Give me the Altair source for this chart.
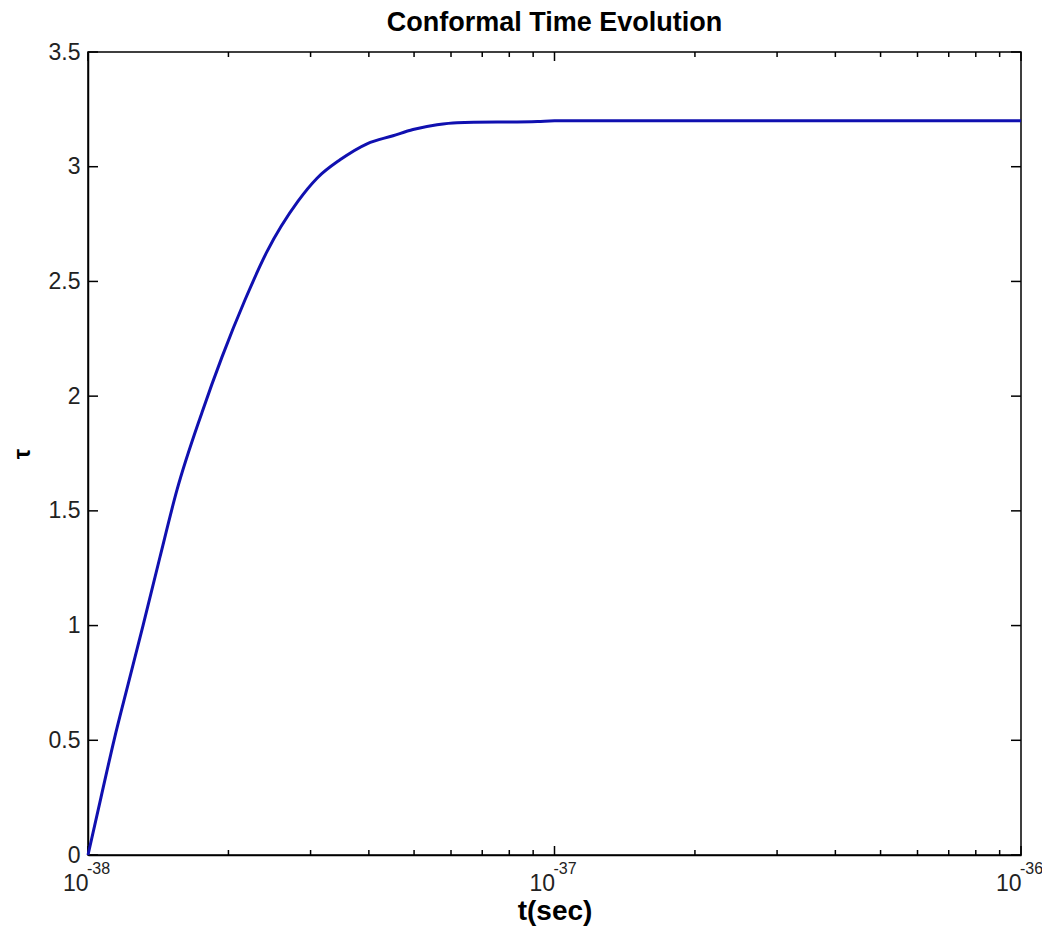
import altair as alt
import pandas as pd

# ---- data ----
t_sec = [1.000e-38, 1.066e-38, 1.137e-38, 1.221e-38, 1.312e-38, 1.427e-38,
         1.551e-38, 1.756e-38, 1.937e-38, 2.171e-38, 2.419e-38, 2.820e-38,
         3.097e-38, 3.469e-38, 3.964e-38, 4.507e-38, 4.974e-38, 5.600e-38,
         6.180e-38, 9.200e-38, 1.000e-37, 1.000e-36]
tau = [0.0, 0.25, 0.5, 0.75, 1.0, 1.3,
       1.59, 1.93, 2.17, 2.42, 2.63, 2.85,
       2.95, 3.03, 3.10, 3.135, 3.162, 3.183,
       3.192, 3.197, 3.2, 3.2]

x_major = [1e-38, 1e-37, 1e-36]
x_exponents = ["-38", "-37", "-36"]
x_minor = [2e-38, 3e-38, 4e-38, 5e-38, 6e-38, 7e-38, 8e-38, 9e-38,
           2e-37, 3e-37, 4e-37, 5e-37, 6e-37, 7e-37, 8e-37, 9e-37]
y_ticks = [0, 0.5, 1, 1.5, 2, 2.5, 3, 3.5]

W, H = 933, 803
FONT = "Liberation Sans"

curve = pd.DataFrame({"t": t_sec, "tau": tau})
major = pd.DataFrame({"t": x_major, "tau": [0] * len(x_major), "exp": x_exponents})
minor = pd.DataFrame({"t": x_minor})
yt = pd.DataFrame({"v": y_ticks})

xscale = alt.Scale(type="log", domain=[1e-38, 1e-36], nice=False)
yscale = alt.Scale(domain=[0, 3.5], nice=False, zero=False)

xaxis = alt.Axis(values=x_major, labelExpr="'10'", labelAlign="right",
                 labelBaseline="top", labelPadding=17, ticks=False, tickSize=0,
                 grid=False, domainColor="black", domainWidth=1.5,
                 labelFont=FONT, labelFontSize=23, labelColor="#222222",
                 labelFlush=False, labelOverlap=False,
                 title="t(sec)", titleFont=FONT, titleFontSize=28,
                 titleFontWeight="bold", titleColor="black",
                 titleBaseline="alphabetic", titleY=64)
yaxis = alt.Axis(values=y_ticks, labelExpr="toString(datum.value)",
                 ticks=False, tickSize=0, grid=False, labelPadding=8,
                 domainColor="black", domainWidth=1.5,
                 labelFont=FONT, labelFontSize=23, labelColor="#222222",
                 labelFlush=False, labelOverlap=False,
                 title="τ", titleFont=FONT, titleFontSize=23,
                 titleFontWeight="bold", titleColor="black", titlePadding=14)

line = alt.Chart(curve).mark_line(color="#1010b0", strokeWidth=3,
                                  interpolate="monotone").encode(
    x=alt.X("t:Q", scale=xscale, axis=xaxis),
    y=alt.Y("tau:Q", scale=yscale, axis=yaxis),
)

sup = alt.Chart(major).mark_text(align="left", baseline="top", dx=-1, dy=6,
                                 font=FONT, fontSize=16, color="#222222").encode(
    x=alt.X("t:Q", scale=xscale), y=alt.Y("tau:Q", scale=yscale), text="exp:N"
)

tick_col = "black"
xb_major = alt.Chart(major).mark_rule(color=tick_col, strokeWidth=1.5).encode(
    x=alt.X("t:Q", scale=xscale), y=alt.value(H), y2=alt.value(H - 9))
xt_major = alt.Chart(major).mark_rule(color=tick_col, strokeWidth=1.5).encode(
    x=alt.X("t:Q", scale=xscale), y=alt.value(0), y2=alt.value(9))
xb_minor = alt.Chart(minor).mark_rule(color=tick_col, strokeWidth=1.5).encode(
    x=alt.X("t:Q", scale=xscale), y=alt.value(H), y2=alt.value(H - 5))
xt_minor = alt.Chart(minor).mark_rule(color=tick_col, strokeWidth=1.5).encode(
    x=alt.X("t:Q", scale=xscale), y=alt.value(0), y2=alt.value(5))
yl = alt.Chart(yt).mark_rule(color=tick_col, strokeWidth=1.5).encode(
    y=alt.Y("v:Q", scale=yscale), x=alt.value(0), x2=alt.value(10))
yr = alt.Chart(yt).mark_rule(color=tick_col, strokeWidth=1.5).encode(
    y=alt.Y("v:Q", scale=yscale), x=alt.value(W), x2=alt.value(W - 10))

chart = alt.layer(xb_major, xt_major, xb_minor, xt_minor, yl, yr, line, sup).properties(
    width=W, height=H,
    title=alt.Title("Conformal Time Evolution", font=FONT, fontSize=27,
                    fontWeight="bold", color="black", anchor="middle",
                    frame="group", offset=4),
    autosize=alt.AutoSizeParams(type="none"),
    padding={"left": 80, "top": 44, "right": 21, "bottom": 71},
    background="white",
).configure_view(stroke="black", strokeWidth=1.5)

chart.save("out.html", embed_options={"renderer": "svg", "actions": False})
